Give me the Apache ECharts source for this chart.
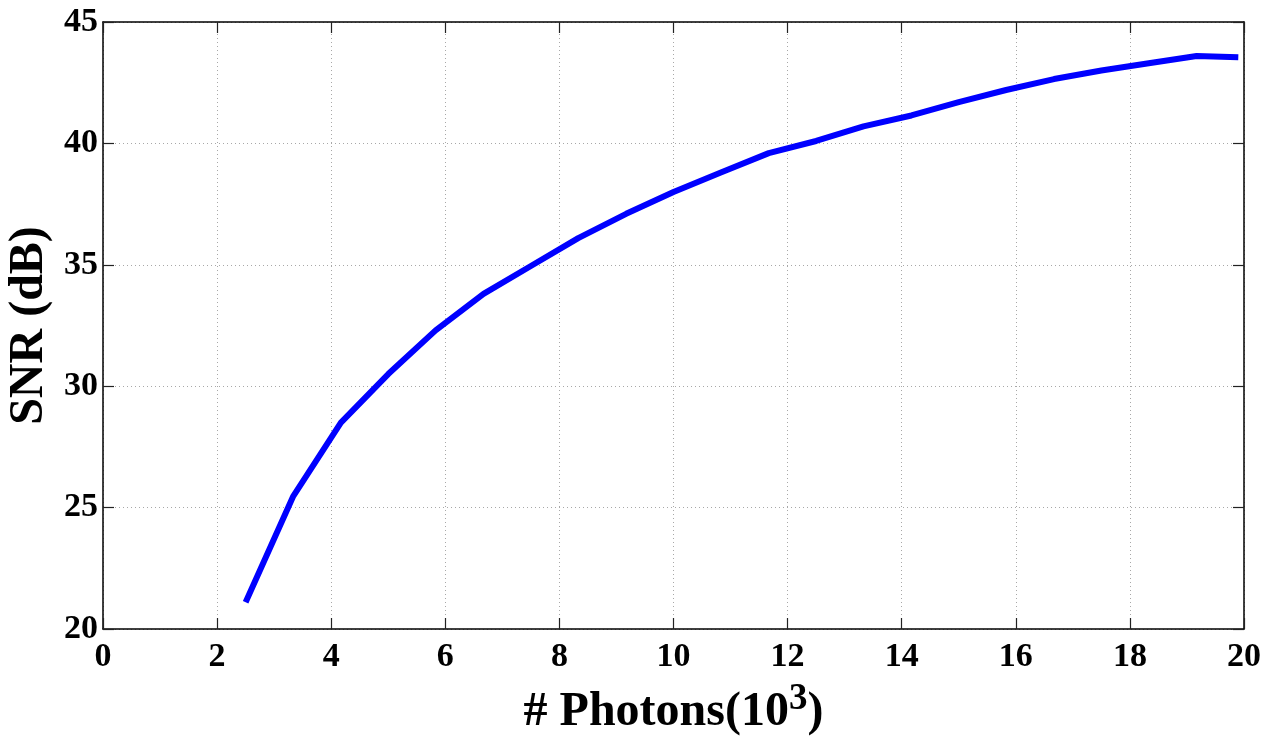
<!DOCTYPE html>
<html>
<head>
<meta charset="utf-8">
<script src="https://cdn.jsdelivr.net/npm/echarts@6/dist/echarts.min.js"></script>
<style>
  html, body { margin: 0; padding: 0; background: #fff; }
  #chart { width: 1276px; height: 736px; }
</style>
</head>
<body>
<div id="chart"></div>
<script>
// Photon count (thousands) and the resulting SNR in dB
const photons = [2.5, 3.33, 4.17, 5, 5.83, 6.67, 7.5, 8.33, 9.17, 10, 10.83, 11.67, 12.5, 13.33, 14.17, 15, 15.83, 16.67, 17.5, 18.33, 19.17, 19.9];
const snrDb = [21.1, 25.45, 28.5, 30.5, 32.3, 33.8, 34.95, 36.1, 37.1, 38.0, 38.8, 39.6, 40.1, 40.7, 41.15, 41.7, 42.2, 42.65, 43.0, 43.3, 43.6, 43.55];

const xRange = { min: 0, max: 20, interval: 2 };
const yRange = { min: 20, max: 45, interval: 5 };

const FONT = '"Liberation Serif", "Times New Roman", serif';

const points = photons.map((x, i) => [x, snrDb[i]]);

const frameLine = { show: true, onZero: false, lineStyle: { color: '#000', width: 1.5 } };
const innerTick = { show: true, inside: true, length: 11, lineStyle: { color: '#222', width: 1.2 } };
const dottedGrid = { show: true, lineStyle: { color: '#a8a8a8', width: 1, type: [1, 3] } };
const tickLabel = { fontFamily: FONT, fontWeight: 'bold', fontSize: 34, color: '#000' };

const chart = echarts.init(document.getElementById('chart'), null, { renderer: 'canvas' });
chart.setOption({
  animation: false,
  backgroundColor: '#fff',
  grid: { left: 103, right: 32, top: 22, bottom: 107, containLabel: false, outerBoundsMode: 'none' },
  xAxis: [
    {
      type: 'value', position: 'bottom', ...xRange,
      axisLine: frameLine, axisTick: innerTick, splitLine: dottedGrid,
      axisLabel: { ...tickLabel, margin: 11 },
      name: '# Photons(10{sup|3})',
      nameLocation: 'middle',
      nameGap: 52,
      nameTextStyle: {
        fontFamily: FONT, fontWeight: 'bold', fontSize: 48, color: '#000',
        rich: {
          sup: { fontFamily: FONT, fontWeight: 'bold', fontSize: 37, color: '#000', verticalAlign: 'bottom', padding: [0, 0, 26, 0] }
        }
      }
    },
    {
      type: 'value', position: 'top', ...xRange,
      axisLine: frameLine, axisTick: innerTick, splitLine: { show: false },
      axisLabel: { show: false }
    }
  ],
  yAxis: [
    {
      type: 'value', position: 'left', ...yRange,
      axisLine: frameLine, axisTick: innerTick, splitLine: dottedGrid,
      axisLabel: { ...tickLabel, margin: 5 },
      name: 'SNR (dB)',
      nameLocation: 'middle',
      nameRotate: 90,
      nameGap: 44,
      nameTextStyle: { fontFamily: FONT, fontWeight: 'bold', fontSize: 48, color: '#000' }
    },
    {
      type: 'value', position: 'right', ...yRange,
      axisLine: frameLine, axisTick: innerTick, splitLine: { show: false },
      axisLabel: { show: false }
    }
  ],
  series: [
    {
      type: 'line',
      data: points,
      showSymbol: false,
      symbol: 'none',
      lineStyle: { color: '#0000ff', width: 6 },
      clip: false
    }
  ]
});
</script>
</body>
</html>
